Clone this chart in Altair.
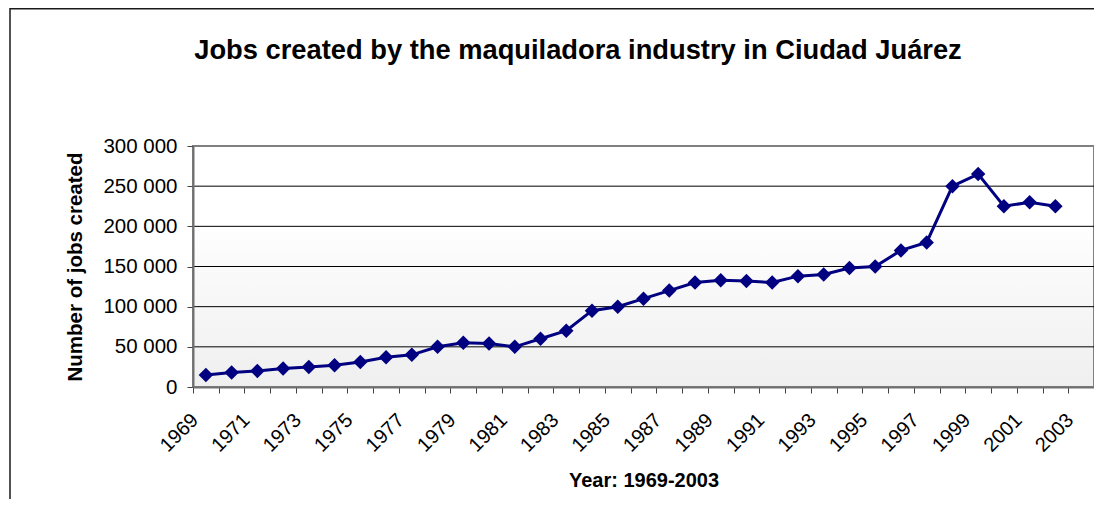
import altair as alt
import pandas as pd

# ---- data ----
years = ["1969", "1970", "1971", "1972", "1973", "1974", "1975", "1976", "1977",
         "1978", "1979", "1980", "1981", "1982", "1983", "1984", "1985", "1986",
         "1987", "1988", "1989", "1990", "1991", "1992", "1993", "1994", "1995",
         "1996", "1997", "1998", "1999", "2000", "2001", "2002", "2003"]
jobs = [15000, 18000, 20000, 23000, 25000, 27000, 31000, 37000, 40000, 50000,
        55000, 54000, 50000, 60000, 70000, 95000, 100000, 110000, 120000, 130000,
        133000, 132000, 130000, 138000, 140000, 148000, 150000, 170000, 180000,
        250000, 265000, 225000, 230000, 225000]
y_ticks = [0, 50000, 100000, 150000, 200000, 250000, 300000]
grid_values = y_ticks[1:-1]

NAVY = "#000080"
FONT = "Liberation Sans"
W, H = 901, 241

df = pd.DataFrame({"year": years[:len(jobs)], "jobs": jobs})
grid_df = pd.DataFrame({"jobs": grid_values})
one = pd.DataFrame({"k": [0]})

x_enc = alt.X(
    "year:O",
    scale=alt.Scale(type="band", domain=years, paddingInner=0, paddingOuter=0),
    axis=alt.Axis(
        labelExpr="toNumber(datum.value) % 2 == 1 ? datum.label : ''",
        labelAngle=315, labelAlign="right", labelBaseline="alphabetic",
        labelOffset=-7, labelPadding=28, labelFontSize=20, labelFont=FONT,
        labelColor="black", labelOverlap=False, labelFlush=False,
        tickBand="extent", tickSize=6, tickColor="#404040", tickWidth=1,
        domainColor="#707070", domainWidth=2, grid=False,
        title="Year: 1969-2003", titleFont=FONT, titleFontSize=20,
        titleFontWeight="bold", titleColor="black", titleX=450.5, titleY=99,
        titleAlign="center", titleBaseline="alphabetic", zindex=1,
    ),
)
y_enc = alt.Y(
    "jobs:Q",
    scale=alt.Scale(domain=[0, 300000], nice=False, zero=True),
    axis=alt.Axis(
        values=y_ticks,
        labelExpr="replace(format(datum.value, ','), ',', ' ')",
        labelFontSize=20.5, labelFont=FONT, labelColor="black", labelPadding=10,
        tickSize=6, tickColor="#404040", tickWidth=1,
        domainColor="#707070", domainWidth=2, grid=False,
        title="Number of jobs created", titleFont=FONT, titleFontSize=20.5,
        titleFontWeight="bold", titleColor="black", titleX=-112, titleY=120.5,
        titleAngle=270, titleAlign="center", titleBaseline="alphabetic", zindex=1,
    ),
)

gradient = alt.LinearGradient(
    gradient="linear", x1=0, y1=0, x2=0, y2=1,
    stops=[alt.GradientStop(offset=0, color="#ffffff"),
           alt.GradientStop(offset=0.3, color="#ffffff"),
           alt.GradientStop(offset=1, color="#efefef")],
)

bg = alt.Chart(one).mark_rect(fill=gradient, stroke="#808080", strokeWidth=2).encode(
    x=alt.value(0), x2=alt.value("width"), y=alt.value(0), y2=alt.value("height")
)
grid = alt.Chart(grid_df).mark_rule(color="black", strokeWidth=1).encode(y=y_enc)
line = alt.Chart(df).mark_line(color=NAVY, strokeWidth=3).encode(x=x_enc, y=y_enc)
pts = alt.Chart(df).mark_point(shape="diamond", filled=True, size=210, color=NAVY,
                               opacity=1).encode(x=x_enc, y=y_enc)
frame = alt.Chart(one).mark_rect(filled=False, stroke="#1a1a1a", strokeWidth=1.5).encode(
    x=alt.value(-183), x2=alt.value(1300), y=alt.value(-137.25), y2=alt.value(600)
)

chart = alt.layer(bg, grid, line, pts, frame).properties(
    width=W, height=H,
    autosize=alt.AutoSizeParams(type="none"),
    padding={"left": 185, "top": 138, "right": 0, "bottom": 112},
    title=alt.TitleParams(
        text="Jobs created by the maquiladora industry in Ciudad Juárez",
        font=FONT, fontSize=27.3, fontWeight="bold", color="black",
        anchor="middle", frame="group", dx=-65.5, offset=0, dy=78.5,
        baseline="alphabetic",
    ),
).configure_view(strokeWidth=0)

chart.save("out.html", embed_options={"renderer": "svg", "actions": False})
